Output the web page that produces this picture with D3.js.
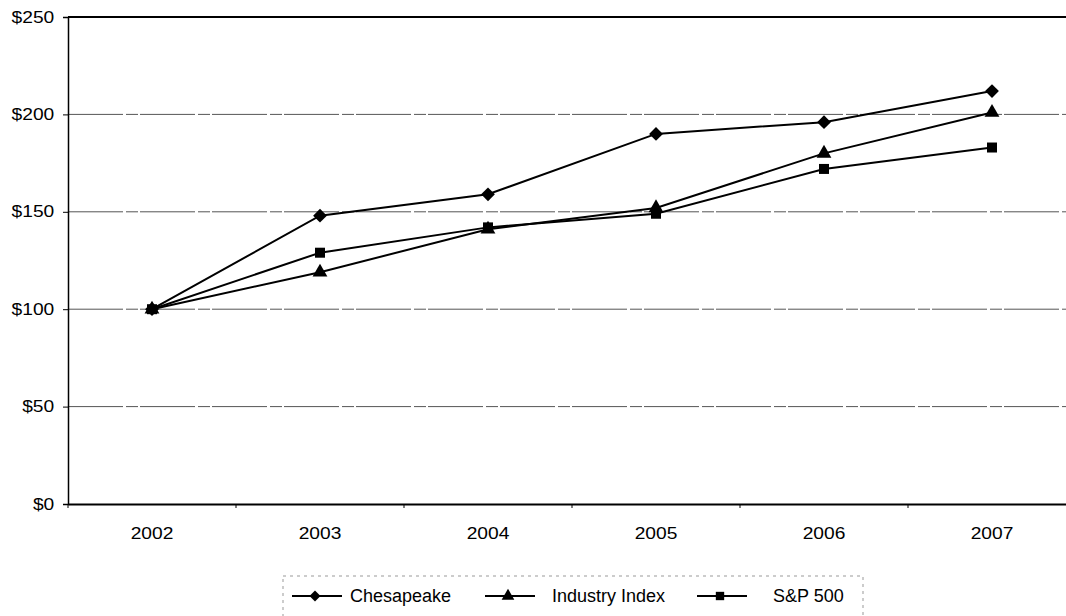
<!DOCTYPE html>
<html>
<head>
<meta charset="utf-8">
<script src="https://cdn.jsdelivr.net/npm/d3@7"></script>
<style>
  body { margin: 0; background: #fff; }
  text { font-family: "Liberation Sans", Arial, sans-serif; fill: #000; }
</style>
</head>
<body>
<svg id="chart" width="1066" height="616"></svg>
<script>
var years = ['2002', '2003', '2004', '2005', '2006', '2007'];
var chesapeake = [100, 148, 159, 190, 196, 212];
var industry = [100, 119, 141, 152, 180, 201];
var sp500 = [100, 129, 142, 149, 172, 183];
var seriesNames = ['Chesapeake', 'Industry Index', 'S&P 500'];
var yTicks = [0, 50, 100, 150, 200, 250];

var svg = d3.select('#chart');
var plotLeft = 68, plotTop = 17, plotBottom = 504, plotRight = 1076;

var x = d3.scaleBand().domain(years).range([plotLeft, plotRight]);
var y = d3.scaleLinear().domain([0, 250]).range([plotBottom, plotTop]);
var stretch = 'scale(1.2,1)';

// gridlines
svg.append('g')
   .selectAll('line')
   .data(yTicks.filter(function(d){ return d > 0 && d < 250; }))
   .enter()
   .append('line')
   .attr('x1', plotLeft)
   .attr('x2', plotRight)
   .attr('y1', function(d){ return y(d); })
   .attr('y2', function(d){ return y(d); })
   .style('stroke', '#555')
   .style('stroke-width', 1)
   .style('stroke-dasharray', '55,3,12,2');

// top border
svg.append('line')
   .attr('x1', plotLeft).attr('x2', plotRight)
   .attr('y1', y(250)).attr('y2', y(250))
   .style('stroke', '#000').style('stroke-width', 2);

// y axis
var yAxis = svg.append('g')
   .attr('transform', 'translate(' + plotLeft + ',0)')
   .call(d3.axisLeft(y).tickValues(yTicks).tickSize(5).tickPadding(8)
           .tickFormat(function(d){ return '$' + d; }));
yAxis.select('.domain').style('stroke', '#000').style('stroke-width', 1.5);
yAxis.selectAll('.tick line').style('stroke', '#000');
yAxis.selectAll('.tick text')
     .attr('font-size', 16)
     .attr('transform', stretch)
     .attr('x', -11.5);

// x axis
var xAxis = svg.append('g')
   .attr('transform', 'translate(0,' + plotBottom + ')')
   .call(d3.axisBottom(x).tickSize(0).tickPadding(24));
xAxis.select('.domain').style('stroke', '#000').style('stroke-width', 2);
xAxis.selectAll('.tick text')
     .attr('font-size', 16)
     .attr('transform', stretch);
xAxis.selectAll('.tick')
     .append('line')
     .attr('x1', -x.bandwidth() / 2)
     .attr('x2', -x.bandwidth() / 2)
     .attr('y1', 0)
     .attr('y2', 4)
     .style('stroke', '#000');

var series = [chesapeake, industry, sp500];
// diamond is a square turned 45 degrees, like the spreadsheet marker
var shapes = [d3.symbolSquare, d3.symbolTriangle, d3.symbolSquare];
var sizes = [95, 95, 100];
var turns = [45, 0, 0];

var line = d3.line()
   .x(function(d, i){ return x(years[i]) + x.bandwidth() / 2; })
   .y(function(d){ return y(d); });

series.forEach(function(s, k) {
   svg.append('path')
      .datum(s)
      .attr('d', line)
      .style('fill', 'none')
      .style('stroke', '#000')
      .style('stroke-width', 2);
});

series.forEach(function(s, k) {
   svg.append('g')
      .selectAll('path')
      .data(s)
      .enter()
      .append('path')
      .attr('d', d3.symbol().type(shapes[k]).size(sizes[k]))
      .attr('transform', function(d, i){
         return 'translate(' + (x(years[i]) + x.bandwidth() / 2) + ',' + y(d) + ') rotate(' + turns[k] + ')';
      })
      .style('fill', '#000');
});

// legend
var legend = svg.append('g');
legend.append('rect')
      .attr('x', 283).attr('y', 576)
      .attr('width', 580).attr('height', 60)
      .style('fill', 'none')
      .style('stroke', '#999')
      .style('stroke-dasharray', '3,4');

var legendX = [292, 485, 697];
var textX = [350, 552, 773];
seriesNames.forEach(function(name, k) {
   legend.append('line')
         .attr('x1', legendX[k]).attr('x2', legendX[k] + 50)
         .attr('y1', 596).attr('y2', 596)
         .style('stroke', '#000').style('stroke-width', 2);
   legend.append('path')
         .attr('d', d3.symbol().type(shapes[k]).size(k === 0 ? 60 : 70))
         .attr('transform', 'translate(' + (legendX[k] + 23) + ',596) rotate(' + turns[k] + ')')
         .style('fill', '#000');
   legend.append('text')
         .attr('x', textX[k])
         .attr('y', 602)
         .attr('font-size', 18)
         .text(name);
});
</script>
</body>
</html>
